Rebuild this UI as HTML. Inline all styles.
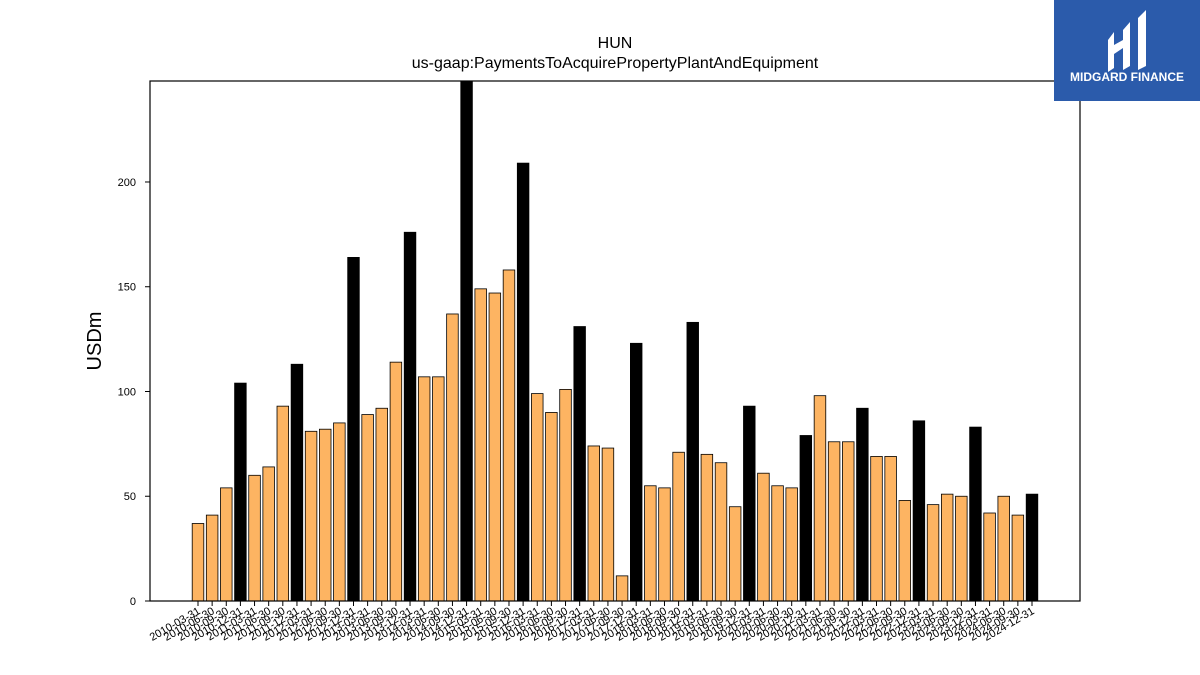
<!DOCTYPE html>
<html><head><meta charset="utf-8"><style>
body{margin:0;background:#fff;width:1200px;height:675px;overflow:hidden;font-family:"Liberation Sans","DejaVu Sans",sans-serif}
svg{display:block}
</style></head><body>
<svg width="1200" height="675" xmlns="http://www.w3.org/2000/svg">
<text x="615" y="48" font-size="16" text-anchor="middle">HUN</text>
<text x="615" y="68" font-size="16" text-anchor="middle">us-gaap:PaymentsToAcquirePropertyPlantAndEquipment</text>
<text transform="translate(101,341) rotate(-90)" font-size="20" text-anchor="middle">USDm</text>
<g id="yax"></g>
<g id="bars"></g>
<g id="xax"></g>
<rect x="150" y="81" width="930" height="520" fill="none" stroke="#000" stroke-width="1.2"/>
<g>
<rect x="1054" y="0" width="146" height="101" fill="#2b5bab"/>
<path d="M1108 40 L1114 32 L1114 68 L1108 72 Z M1123 30 L1130 22 L1130 66 L1123 70 Z M1138 18 L1146 10 L1146 66 L1138 70 Z M1114 45 L1123 40 L1123 48 L1114 54 Z" fill="#fff"/>
<text x="1127" y="81" font-size="12" font-weight="bold" fill="#fff" text-anchor="middle">MIDGARD FINANCE</text>
</g>
</svg>
<script>
const values=[37,41,54,104,60,64,93,113,81,82,85,164,89,92,114,176,107,107,137,248,149,147,158,209,99,90,101,131,74,73,12,123,55,54,71,133,70,66,45,93,61,55,54,79,98,76,76,92,69,69,48,86,46,51,50,83,42,50,41,51];
const yTicks=[0,50,100,150,200];
const categories=[];
for(let yr=2010;yr<=2024;yr++){for(const q of ["03-31","06-30","09-30","12-31"])categories.push(yr+"-"+q);}
const NS="http://www.w3.org/2000/svg";
const x0=198,x1=1032,yBase=601,yTop=81,yMax=248.2;
const xs=i=>x0+(x1-x0)*i/(categories.length-1);
const ys=v=>yBase-(yBase-yTop)*v/yMax;
const bars=document.getElementById('bars'),xax=document.getElementById('xax'),yax=document.getElementById('yax');
function mk(t,a){const e=document.createElementNS(NS,t);for(const k in a)e.setAttribute(k,a[k]);return e;}
values.forEach((v,i)=>{
 const black=(i%4===3);
 const r=mk('rect',{x:xs(i)-5.8,y:ys(v),width:11.6,height:yBase-ys(v),fill:black?'#000':'#fdb462',stroke:'#000','stroke-width':0.8});
 
 
 bars.appendChild(r);
});
categories.forEach((c,i)=>{
 const t=mk('line',{x1:xs(i),x2:xs(i),y1:yBase,y2:yBase+5,stroke:'#000'});
 
 
 xax.appendChild(t);
 const l=mk('text',{transform:`translate(${xs(i)+3},${yBase+12}) rotate(-30)`,'font-size':11,'text-anchor':'end'});
 
 
 l.textContent=c;xax.appendChild(l);
});
yTicks.forEach(v=>{
 const t=mk('line',{x1:145,x2:150,y1:ys(v),y2:ys(v),stroke:'#000'});
 
 
 yax.appendChild(t);
 const l=mk('text',{x:136,y:ys(v)+4,'font-size':11,'text-anchor':'end'});
 
 
 l.textContent=v;yax.appendChild(l);
});
</script>
</body></html>
